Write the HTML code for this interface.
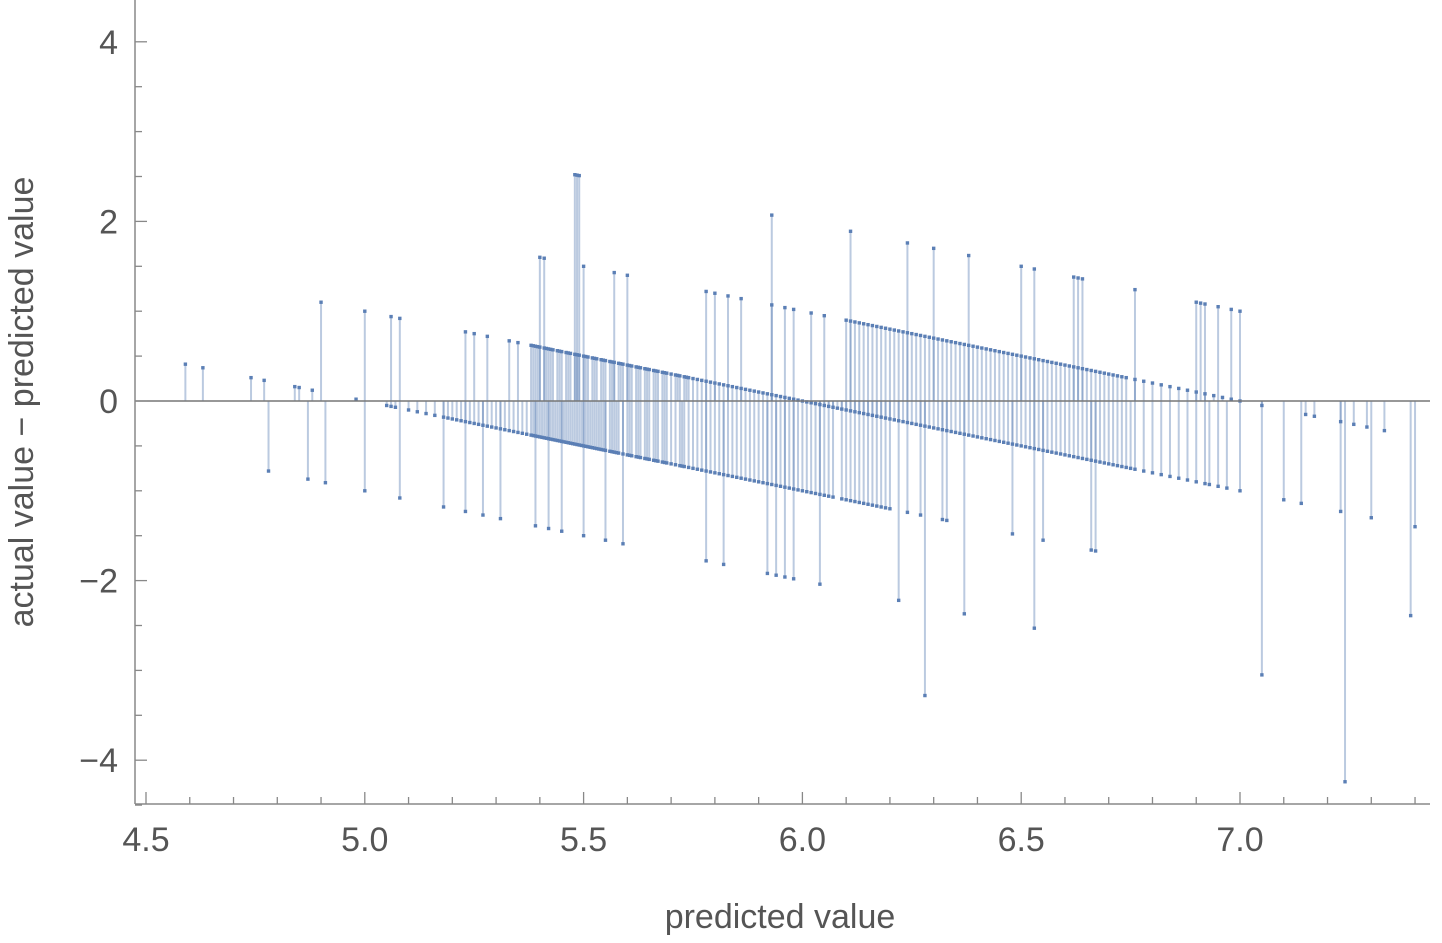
<!DOCTYPE html>
<html><head><meta charset="utf-8"><style>
body{margin:0;background:#fff;}
svg text{font-family:"Liberation Sans",sans-serif;fill:#555;}
</style></head><body>
<svg id="chart" width="1442" height="938" xmlns="http://www.w3.org/2000/svg">
<g id="stems"></g>
<g id="axes"></g>
<text x="780" y="928" font-size="34" text-anchor="middle">predicted value</text>
<text transform="translate(33,402) rotate(-90)" font-size="34" text-anchor="middle">actual value − predicted value</text>
</svg>
<script>
const xTicks=[4.5,5.0,5.5,6.0,6.5,7.0];
const xTickLabels=["4.5","5.0","5.5","6.0","6.5","7.0"];
const yTicks=[4,2,0,-2,-4];
const yTickLabels=["4","2","0","−2","−4"];
const actual3=[6.28,7.24];
const actual4=[4.78,4.87,4.91,5.0,5.08,5.18,5.23,5.27,5.31,5.39,5.42,5.45,5.5,5.55,5.59,5.78,5.82,5.92,5.94,5.96,5.98,6.04,6.22,6.37,6.53,7.05];
const actual5=[4.59,4.63,4.74,4.77,4.84,4.85,4.88,4.98,5.05,5.06,5.07,5.1,5.12,5.14,5.16,5.18,5.19,5.2,5.21,5.22,5.23,5.24,5.25,5.26,5.27,5.28,5.29,5.3,5.31,5.32,5.33,5.34,5.35,5.36,5.37,5.38,5.385,5.39,5.395,5.4,5.405,5.41,5.415,5.42,5.425,5.43,5.435,5.44,5.445,5.45,5.455,5.46,5.465,5.47,5.475,5.48,5.485,5.49,5.495,5.5,5.505,5.51,5.515,5.52,5.525,5.53,5.535,5.54,5.545,5.55,5.56,5.565,5.57,5.575,5.58,5.59,5.6,5.605,5.61,5.62,5.625,5.63,5.64,5.645,5.65,5.66,5.665,5.67,5.68,5.685,5.69,5.7,5.71,5.72,5.725,5.73,5.74,5.75,5.76,5.77,5.78,5.79,5.8,5.81,5.82,5.83,5.84,5.85,5.86,5.87,5.88,5.89,5.9,5.91,5.92,5.93,5.94,5.95,5.96,5.97,5.98,5.99,6.0,6.01,6.02,6.03,6.04,6.05,6.06,6.07,6.09,6.1,6.11,6.12,6.13,6.14,6.15,6.16,6.17,6.18,6.19,6.2,6.24,6.27,6.32,6.33,6.48,6.55,6.66,6.67,7.39];
const actual6=[4.9,5.0,5.06,5.08,5.23,5.25,5.28,5.33,5.35,5.38,5.385,5.39,5.395,5.4,5.41,5.415,5.42,5.425,5.43,5.44,5.445,5.45,5.46,5.465,5.47,5.48,5.485,5.49,5.5,5.505,5.51,5.52,5.525,5.53,5.54,5.545,5.55,5.56,5.565,5.57,5.58,5.585,5.59,5.6,5.605,5.61,5.62,5.625,5.63,5.64,5.645,5.65,5.66,5.665,5.67,5.68,5.685,5.69,5.7,5.71,5.715,5.72,5.73,5.735,5.74,5.75,5.76,5.77,5.78,5.79,5.8,5.81,5.82,5.83,5.84,5.85,5.86,5.87,5.88,5.89,5.9,5.91,5.92,5.93,5.94,5.95,5.96,5.97,5.98,5.99,6.0,6.01,6.02,6.03,6.04,6.05,6.06,6.07,6.08,6.09,6.1,6.11,6.12,6.13,6.14,6.15,6.16,6.17,6.18,6.19,6.2,6.21,6.22,6.23,6.24,6.25,6.26,6.27,6.28,6.29,6.3,6.31,6.32,6.33,6.34,6.35,6.36,6.37,6.38,6.39,6.4,6.41,6.42,6.43,6.44,6.45,6.46,6.47,6.48,6.49,6.5,6.51,6.52,6.53,6.54,6.55,6.56,6.57,6.58,6.59,6.6,6.61,6.62,6.63,6.64,6.65,6.66,6.67,6.68,6.69,6.7,6.71,6.72,6.73,6.74,6.75,6.76,6.78,6.8,6.82,6.84,6.86,6.88,6.9,6.92,6.93,6.95,6.97,7.0,7.1,7.14,7.23,7.3,7.4];
const actual7=[5.4,5.41,5.5,5.57,5.6,5.78,5.8,5.83,5.86,5.93,5.96,5.98,6.02,6.05,6.1,6.11,6.12,6.13,6.14,6.15,6.16,6.17,6.18,6.19,6.2,6.21,6.22,6.23,6.24,6.25,6.26,6.27,6.28,6.29,6.3,6.31,6.32,6.33,6.34,6.35,6.36,6.37,6.38,6.39,6.4,6.41,6.42,6.43,6.44,6.45,6.46,6.47,6.48,6.49,6.5,6.51,6.52,6.53,6.54,6.55,6.56,6.57,6.58,6.59,6.6,6.61,6.62,6.63,6.64,6.65,6.66,6.67,6.68,6.69,6.7,6.71,6.72,6.73,6.74,6.76,6.78,6.8,6.82,6.84,6.86,6.88,6.9,6.92,6.94,6.96,6.98,7.0,7.05,7.15,7.17,7.23,7.26,7.29,7.33];
const actual8=[5.48,5.485,5.49,5.93,6.11,6.24,6.3,6.38,6.5,6.53,6.62,6.63,6.64,6.76,6.9,6.91,6.92,6.95,6.98,7.0];
const classes=[[3,actual3],[4,actual4],[5,actual5],[6,actual6],[7,actual7],[8,actual8]];
const NS="http://www.w3.org/2000/svg";
const X=v=>146+(v-4.5)*437.6;
const Y=v=>401-v*89.8;
const stems=document.getElementById('stems'),axes=document.getElementById('axes');
function mk(tag,at,parent){const e=document.createElementNS(NS,tag);for(const k in at)e.setAttribute(k,at[k]);parent.appendChild(e);return e;}
classes.forEach(([a,arr])=>{arr.forEach(p=>{
 const r=a-p;
 const l=mk('line',{x1:X(p),x2:X(p),y1:Y(0),y2:Y(r),stroke:'rgba(94,129,181,0.42)','stroke-width':2},stems);
 
 
 const d=mk('rect',{x:X(p)-1.7,y:Y(r)-1.7,width:3.4,height:3.4,fill:'#5b7fb5'},stems);
 
 
});});
mk('line',{x1:135,x2:1430,y1:Y(0),y2:Y(0),stroke:'#777','stroke-width':1.5},axes);
mk('line',{x1:135,x2:135,y1:0,y2:804,stroke:'#888','stroke-width':1.5},axes);
mk('line',{x1:135,x2:1430,y1:804,y2:804,stroke:'#888','stroke-width':1.5},axes);
for(let i=0;i<=29;i++){const v=4.5+i*0.1;const maj=i%5===0;
 mk('line',{x1:X(v),x2:X(v),y1:804,y2:maj?792:797,stroke:'#888','stroke-width':1.3},axes);}
xTicks.forEach((v,i)=>{const t=mk('text',{x:X(v),y:851,'font-size':34,'text-anchor':'middle'},axes);t.textContent=xTickLabels[i];
 
 });
for(let v=-4.5;v<=4.5;v+=0.5){const maj=Math.abs(v%2)<1e-9;
 mk('line',{x1:135,x2:maj?147:142,y1:Y(v),y2:Y(v),stroke:'#888','stroke-width':1.3},axes);}
yTicks.forEach((v,i)=>{const t=mk('text',{x:118,y:Y(v)+12,'font-size':34,'text-anchor':'end'},axes);t.textContent=yTickLabels[i];
 
 });
</script>
</body></html>
